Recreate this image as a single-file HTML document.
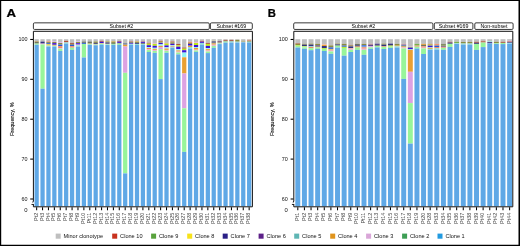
<!DOCTYPE html>
<html><head><meta charset="utf-8"><title>Clonotype frequencies</title>
<style>html,body{margin:0;padding:0;background:#fff;width:520px;height:246px;overflow:hidden}svg{display:block;will-change:transform}</style>
</head><body>
<svg width="520" height="246" viewBox="0 0 520 246">
<style>
text{font-family:'Liberation Sans',sans-serif;fill:#222}
.lt{font-size:12px;font-weight:bold;fill:#000;stroke:#000;stroke-width:0.25px}
.st{font-size:6px;text-anchor:middle;fill:#000}
.yl{font-size:5.4px;text-anchor:end;fill:#111}
.yt{font-size:5.5px;text-anchor:middle;fill:#000;stroke:#000;stroke-width:0.08px}
.xl{font-size:6px;text-anchor:end;fill:#4a4a4a}
.lg{font-size:5.9px;fill:#111}
.strip{fill:#fff;stroke:#222;stroke-width:0.9}
.fr{fill:none;stroke:#111;stroke-width:1}
.tk{fill:none;stroke:#000;stroke-width:1.05}
.brk{fill:none;stroke:#000;stroke-width:0.9}
</style>
<rect x="0" y="0" width="520" height="246" fill="#fff"/>
<text transform="translate(6.55 16.85) scale(1.1 0.97)" class="lt">A</text>
<rect x="33.4" y="22.85" width="175.9" height="6.6" rx="1.2" class="strip"/>
<text transform="translate(121.35 27.95) scale(0.88 1)" class="st">Subset #2</text>
<rect x="210.4" y="22.85" width="41.9" height="6.6" rx="1.2" class="strip"/>
<text transform="translate(231.35 27.95) scale(0.88 1)" class="st">Subset #169</text>
<rect x="34.52" y="39.2" width="4.25" height="1.9" fill="#bfbfbf"/>
<rect x="34.52" y="41.1" width="4.25" height="0.5" fill="#e9a032"/>
<rect x="34.52" y="41.6" width="4.25" height="2" fill="#6f7560"/>
<rect x="34.52" y="43.6" width="4.25" height="1.15" fill="#98f59a"/>
<rect x="34.52" y="44.75" width="4.25" height="161.55" fill="#5fa8e6"/>
<rect x="40.43" y="39.2" width="4.25" height="2.4" fill="#bfbfbf"/>
<rect x="40.43" y="41.6" width="4.25" height="2" fill="#33337f"/>
<rect x="40.43" y="43.6" width="4.25" height="0.8" fill="#f0a6d6"/>
<rect x="40.43" y="44.4" width="4.25" height="44.3" fill="#98f59a"/>
<rect x="40.43" y="88.7" width="4.25" height="117.6" fill="#5fa8e6"/>
<rect x="46.33" y="39.2" width="4.25" height="2.1" fill="#bfbfbf"/>
<rect x="46.33" y="41.3" width="4.25" height="0.7" fill="#ee8a6a"/>
<rect x="46.33" y="42" width="4.25" height="0.9" fill="#8c8c40"/>
<rect x="46.33" y="42.9" width="4.25" height="1" fill="#2656dc"/>
<rect x="46.33" y="43.9" width="4.25" height="1.8" fill="#e2d25a"/>
<rect x="46.33" y="45.7" width="4.25" height="0.9" fill="#8ee0d4"/>
<rect x="46.33" y="46.6" width="4.25" height="159.7" fill="#5fa8e6"/>
<rect x="52.23" y="39.2" width="4.25" height="2.1" fill="#bfbfbf"/>
<rect x="52.23" y="41.3" width="4.25" height="0.7" fill="#dda2e2"/>
<rect x="52.23" y="42" width="4.25" height="1.1" fill="#8c8c40"/>
<rect x="52.23" y="43.1" width="4.25" height="1.7" fill="#3c12d8"/>
<rect x="52.23" y="44.8" width="4.25" height="0.9" fill="#e9a032"/>
<rect x="52.23" y="45.7" width="4.25" height="1" fill="#8ee0d4"/>
<rect x="52.23" y="46.7" width="4.25" height="159.6" fill="#5fa8e6"/>
<rect x="58.14" y="39.2" width="4.25" height="3" fill="#bfbfbf"/>
<rect x="58.14" y="42.2" width="4.25" height="0.8" fill="#dda2e2"/>
<rect x="58.14" y="43" width="4.25" height="1.6" fill="#8c8c40"/>
<rect x="58.14" y="44.6" width="4.25" height="1.5" fill="#2656dc"/>
<rect x="58.14" y="46.1" width="4.25" height="1.9" fill="#ee8a6a"/>
<rect x="58.14" y="48" width="4.25" height="0.7" fill="#f0a6d6"/>
<rect x="58.14" y="48.7" width="4.25" height="2.2" fill="#98f59a"/>
<rect x="58.14" y="50.9" width="4.25" height="155.4" fill="#5fa8e6"/>
<rect x="64.04" y="39.2" width="4.25" height="1.6" fill="#bfbfbf"/>
<rect x="64.04" y="40.8" width="4.25" height="1.6" fill="#b0503a"/>
<rect x="64.04" y="42.4" width="4.25" height="1.2" fill="#8ee0d4"/>
<rect x="64.04" y="43.6" width="4.25" height="162.7" fill="#5fa8e6"/>
<rect x="69.94" y="39.2" width="4.25" height="3.7" fill="#bfbfbf"/>
<rect x="69.94" y="42.9" width="4.25" height="1" fill="#b0503a"/>
<rect x="69.94" y="43.9" width="4.25" height="0.9" fill="#8c8c40"/>
<rect x="69.94" y="44.8" width="4.25" height="1.3" fill="#2656dc"/>
<rect x="69.94" y="46.1" width="4.25" height="1.6" fill="#ee8a6a"/>
<rect x="69.94" y="47.7" width="4.25" height="2.1" fill="#98f59a"/>
<rect x="69.94" y="49.8" width="4.25" height="156.5" fill="#5fa8e6"/>
<rect x="75.85" y="39.2" width="4.25" height="2.3" fill="#bfbfbf"/>
<rect x="75.85" y="41.5" width="4.25" height="0.5" fill="#dda2e2"/>
<rect x="75.85" y="42" width="4.25" height="1.2" fill="#8c8c40"/>
<rect x="75.85" y="43.2" width="4.25" height="1.4" fill="#3c12d8"/>
<rect x="75.85" y="44.6" width="4.25" height="0.7" fill="#f0a6d6"/>
<rect x="75.85" y="45.3" width="4.25" height="1.4" fill="#8ee0d4"/>
<rect x="75.85" y="46.7" width="4.25" height="159.6" fill="#5fa8e6"/>
<rect x="81.75" y="39.2" width="4.25" height="2.3" fill="#bfbfbf"/>
<rect x="81.75" y="41.5" width="4.25" height="1.4" fill="#6f7560"/>
<rect x="81.75" y="42.9" width="4.25" height="1" fill="#2656dc"/>
<rect x="81.75" y="43.9" width="4.25" height="13.6" fill="#98f59a"/>
<rect x="81.75" y="57.5" width="4.25" height="148.8" fill="#5fa8e6"/>
<rect x="87.65" y="39.2" width="4.25" height="2.3" fill="#bfbfbf"/>
<rect x="87.65" y="41.5" width="4.25" height="2.1" fill="#6f7560"/>
<rect x="87.65" y="43.6" width="4.25" height="0.7" fill="#e2d25a"/>
<rect x="87.65" y="44.3" width="4.25" height="0.7" fill="#8ee0d4"/>
<rect x="87.65" y="45" width="4.25" height="161.3" fill="#5fa8e6"/>
<rect x="93.55" y="39.2" width="4.25" height="2.3" fill="#bfbfbf"/>
<rect x="93.55" y="41.5" width="4.25" height="1.4" fill="#8c8c40"/>
<rect x="93.55" y="42.9" width="4.25" height="1" fill="#33337f"/>
<rect x="93.55" y="43.9" width="4.25" height="0.7" fill="#e2d25a"/>
<rect x="93.55" y="44.6" width="4.25" height="0.7" fill="#8ee0d4"/>
<rect x="93.55" y="45.3" width="4.25" height="161" fill="#5fa8e6"/>
<rect x="99.46" y="39.2" width="4.25" height="1.6" fill="#bfbfbf"/>
<rect x="99.46" y="40.8" width="4.25" height="1" fill="#b0503a"/>
<rect x="99.46" y="41.8" width="4.25" height="1.4" fill="#3c12d8"/>
<rect x="99.46" y="43.2" width="4.25" height="0.7" fill="#e2d25a"/>
<rect x="99.46" y="43.9" width="4.25" height="1.1" fill="#8ee0d4"/>
<rect x="99.46" y="45" width="4.25" height="161.3" fill="#5fa8e6"/>
<rect x="105.36" y="39.2" width="4.25" height="2" fill="#bfbfbf"/>
<rect x="105.36" y="41.2" width="4.25" height="0.3" fill="#e9a032"/>
<rect x="105.36" y="41.5" width="4.25" height="1" fill="#8c8c40"/>
<rect x="105.36" y="42.5" width="4.25" height="1.3" fill="#33337f"/>
<rect x="105.36" y="43.8" width="4.25" height="0.5" fill="#e2d25a"/>
<rect x="105.36" y="44.3" width="4.25" height="0.7" fill="#8ee0d4"/>
<rect x="105.36" y="45" width="4.25" height="161.3" fill="#5fa8e6"/>
<rect x="111.26" y="39.2" width="4.25" height="2" fill="#bfbfbf"/>
<rect x="111.26" y="41.2" width="4.25" height="0.5" fill="#e9a032"/>
<rect x="111.26" y="41.7" width="4.25" height="1.2" fill="#8c8c40"/>
<rect x="111.26" y="42.9" width="4.25" height="1" fill="#6f7560"/>
<rect x="111.26" y="43.9" width="4.25" height="0.9" fill="#98f59a"/>
<rect x="111.26" y="44.8" width="4.25" height="161.5" fill="#5fa8e6"/>
<rect x="117.17" y="39.2" width="4.25" height="1.8" fill="#bfbfbf"/>
<rect x="117.17" y="41" width="4.25" height="0.7" fill="#b0503a"/>
<rect x="117.17" y="41.7" width="4.25" height="1.2" fill="#3c12d8"/>
<rect x="117.17" y="42.9" width="4.25" height="0.7" fill="#6f7560"/>
<rect x="117.17" y="43.6" width="4.25" height="1.2" fill="#98f59a"/>
<rect x="117.17" y="44.8" width="4.25" height="161.5" fill="#5fa8e6"/>
<rect x="123.07" y="39.2" width="4.25" height="3.7" fill="#bfbfbf"/>
<rect x="123.07" y="42.9" width="4.25" height="0.7" fill="#8c8c40"/>
<rect x="123.07" y="43.6" width="4.25" height="1" fill="#2656dc"/>
<rect x="123.07" y="44.6" width="4.25" height="1.9" fill="#e9a032"/>
<rect x="123.07" y="46.5" width="4.25" height="26.3" fill="#dda2e2"/>
<rect x="123.07" y="72.8" width="4.25" height="100.6" fill="#98f59a"/>
<rect x="123.07" y="173.4" width="4.25" height="32.9" fill="#5fa8e6"/>
<rect x="128.97" y="39.2" width="4.25" height="2.3" fill="#bfbfbf"/>
<rect x="128.97" y="41.5" width="4.25" height="0.7" fill="#b0503a"/>
<rect x="128.97" y="42.2" width="4.25" height="1" fill="#6f7560"/>
<rect x="128.97" y="43.2" width="4.25" height="0.7" fill="#3c12d8"/>
<rect x="128.97" y="43.9" width="4.25" height="0.9" fill="#8ee0d4"/>
<rect x="128.97" y="44.8" width="4.25" height="161.5" fill="#5fa8e6"/>
<rect x="134.88" y="39.2" width="4.25" height="2.1" fill="#bfbfbf"/>
<rect x="134.88" y="41.3" width="4.25" height="0.5" fill="#e9a032"/>
<rect x="134.88" y="41.8" width="4.25" height="1.1" fill="#8c8c40"/>
<rect x="134.88" y="42.9" width="4.25" height="1" fill="#33337f"/>
<rect x="134.88" y="43.9" width="4.25" height="1.1" fill="#8ee0d4"/>
<rect x="134.88" y="45" width="4.25" height="161.3" fill="#5fa8e6"/>
<rect x="140.78" y="39.2" width="4.25" height="2" fill="#bfbfbf"/>
<rect x="140.78" y="41.2" width="4.25" height="0.5" fill="#e9a032"/>
<rect x="140.78" y="41.7" width="4.25" height="1.2" fill="#3c12d8"/>
<rect x="140.78" y="42.9" width="4.25" height="1" fill="#6f7560"/>
<rect x="140.78" y="43.9" width="4.25" height="0.85" fill="#8ee0d4"/>
<rect x="140.78" y="44.75" width="4.25" height="161.55" fill="#5fa8e6"/>
<rect x="146.68" y="39.2" width="4.25" height="3.6" fill="#bfbfbf"/>
<rect x="146.68" y="42.8" width="4.25" height="0.9" fill="#b0503a"/>
<rect x="146.68" y="43.7" width="4.25" height="1.5" fill="#bde814"/>
<rect x="146.68" y="45.2" width="4.25" height="2" fill="#3c12d8"/>
<rect x="146.68" y="47.2" width="4.25" height="0.8" fill="#8ef4f4"/>
<rect x="146.68" y="48" width="4.25" height="1.1" fill="#e9a032"/>
<rect x="146.68" y="49.1" width="4.25" height="1" fill="#f0a6d6"/>
<rect x="146.68" y="50.1" width="4.25" height="1.9" fill="#98f59a"/>
<rect x="146.68" y="52" width="4.25" height="154.3" fill="#5fa8e6"/>
<rect x="152.58" y="39.2" width="4.25" height="4" fill="#bfbfbf"/>
<rect x="152.58" y="43.2" width="4.25" height="0.7" fill="#f0a6d6"/>
<rect x="152.58" y="43.9" width="4.25" height="1.9" fill="#bde814"/>
<rect x="152.58" y="45.8" width="4.25" height="2" fill="#3c12d8"/>
<rect x="152.58" y="47.8" width="4.25" height="1" fill="#8ef4f4"/>
<rect x="152.58" y="48.8" width="4.25" height="1.1" fill="#e9a032"/>
<rect x="152.58" y="49.9" width="4.25" height="1" fill="#f0a6d6"/>
<rect x="152.58" y="50.9" width="4.25" height="2" fill="#98f59a"/>
<rect x="152.58" y="52.9" width="4.25" height="153.4" fill="#5fa8e6"/>
<rect x="158.49" y="39.2" width="4.25" height="1.6" fill="#bfbfbf"/>
<rect x="158.49" y="40.8" width="4.25" height="1" fill="#b0503a"/>
<rect x="158.49" y="41.8" width="4.25" height="0.9" fill="#bde814"/>
<rect x="158.49" y="42.7" width="4.25" height="1.6" fill="#3c12d8"/>
<rect x="158.49" y="44.3" width="4.25" height="1.5" fill="#8ef4f4"/>
<rect x="158.49" y="45.8" width="4.25" height="1.3" fill="#e9a032"/>
<rect x="158.49" y="47.1" width="4.25" height="2.1" fill="#dda2e2"/>
<rect x="158.49" y="49.2" width="4.25" height="29.9" fill="#98f59a"/>
<rect x="158.49" y="79.1" width="4.25" height="127.2" fill="#5fa8e6"/>
<rect x="164.39" y="39.2" width="4.25" height="3.7" fill="#bfbfbf"/>
<rect x="164.39" y="42.9" width="4.25" height="0.7" fill="#ee8a6a"/>
<rect x="164.39" y="43.6" width="4.25" height="1.8" fill="#bde814"/>
<rect x="164.39" y="45.4" width="4.25" height="1.9" fill="#3c12d8"/>
<rect x="164.39" y="47.3" width="4.25" height="1.2" fill="#8ef4f4"/>
<rect x="164.39" y="48.5" width="4.25" height="1.4" fill="#e9a032"/>
<rect x="164.39" y="49.9" width="4.25" height="0.9" fill="#f0a6d6"/>
<rect x="164.39" y="50.8" width="4.25" height="2" fill="#98f59a"/>
<rect x="164.39" y="52.8" width="4.25" height="153.5" fill="#5fa8e6"/>
<rect x="170.29" y="39.2" width="4.25" height="2.3" fill="#bfbfbf"/>
<rect x="170.29" y="41.5" width="4.25" height="0.9" fill="#b0503a"/>
<rect x="170.29" y="42.4" width="4.25" height="1.4" fill="#8c8c40"/>
<rect x="170.29" y="43.8" width="4.25" height="1.2" fill="#3c12d8"/>
<rect x="170.29" y="45" width="4.25" height="0.8" fill="#8ef4f4"/>
<rect x="170.29" y="45.8" width="4.25" height="1" fill="#ee8a6a"/>
<rect x="170.29" y="46.8" width="4.25" height="1" fill="#8ee0d4"/>
<rect x="170.29" y="47.8" width="4.25" height="158.5" fill="#5fa8e6"/>
<rect x="176.2" y="39.2" width="4.25" height="4.8" fill="#bfbfbf"/>
<rect x="176.2" y="44" width="4.25" height="1.3" fill="#b0503a"/>
<rect x="176.2" y="45.3" width="4.25" height="1.4" fill="#bde814"/>
<rect x="176.2" y="46.7" width="4.25" height="2.4" fill="#3c12d8"/>
<rect x="176.2" y="49.1" width="4.25" height="1.3" fill="#8ef4f4"/>
<rect x="176.2" y="50.4" width="4.25" height="1.2" fill="#e9a032"/>
<rect x="176.2" y="51.6" width="4.25" height="0.9" fill="#f0a6d6"/>
<rect x="176.2" y="52.5" width="4.25" height="1.9" fill="#98f59a"/>
<rect x="176.2" y="54.4" width="4.25" height="151.9" fill="#5fa8e6"/>
<rect x="182.1" y="39.2" width="4.25" height="8.3" fill="#bfbfbf"/>
<rect x="182.1" y="47.5" width="4.25" height="1.2" fill="#b0503a"/>
<rect x="182.1" y="48.7" width="4.25" height="1.5" fill="#bde814"/>
<rect x="182.1" y="50.2" width="4.25" height="2.4" fill="#3c12d8"/>
<rect x="182.1" y="52.6" width="4.25" height="4.7" fill="#8ef4f4"/>
<rect x="182.1" y="57.3" width="4.25" height="16.2" fill="#e9a032"/>
<rect x="182.1" y="73.5" width="4.25" height="34.8" fill="#dda2e2"/>
<rect x="182.1" y="108.3" width="4.25" height="43.6" fill="#98f59a"/>
<rect x="182.1" y="151.9" width="4.25" height="54.4" fill="#5fa8e6"/>
<rect x="188" y="39.2" width="4.25" height="2.6" fill="#bfbfbf"/>
<rect x="188" y="41.8" width="4.25" height="1.1" fill="#ee8a6a"/>
<rect x="188" y="42.9" width="4.25" height="1" fill="#8c8c40"/>
<rect x="188" y="43.9" width="4.25" height="1.8" fill="#3c12d8"/>
<rect x="188" y="45.7" width="4.25" height="1.3" fill="#e9a032"/>
<rect x="188" y="47" width="4.25" height="1.6" fill="#8ee0d4"/>
<rect x="188" y="48.6" width="4.25" height="157.7" fill="#5fa8e6"/>
<rect x="193.91" y="39.2" width="4.25" height="3" fill="#bfbfbf"/>
<rect x="193.91" y="42.2" width="4.25" height="0.8" fill="#f0a6d6"/>
<rect x="193.91" y="43" width="4.25" height="2" fill="#bde814"/>
<rect x="193.91" y="45" width="4.25" height="2" fill="#3c12d8"/>
<rect x="193.91" y="47" width="4.25" height="1" fill="#8ef4f4"/>
<rect x="193.91" y="48" width="4.25" height="1.7" fill="#e9a032"/>
<rect x="193.91" y="49.7" width="4.25" height="0.8" fill="#f0a6d6"/>
<rect x="193.91" y="50.5" width="4.25" height="1.4" fill="#98f59a"/>
<rect x="193.91" y="51.9" width="4.25" height="154.4" fill="#5fa8e6"/>
<rect x="199.81" y="39.2" width="4.25" height="1.6" fill="#bfbfbf"/>
<rect x="199.81" y="40.8" width="4.25" height="0.9" fill="#b0503a"/>
<rect x="199.81" y="41.7" width="4.25" height="1.2" fill="#3c12d8"/>
<rect x="199.81" y="42.9" width="4.25" height="1.7" fill="#8ee0d4"/>
<rect x="199.81" y="44.6" width="4.25" height="161.7" fill="#5fa8e6"/>
<rect x="205.71" y="39.2" width="4.25" height="3.7" fill="#bfbfbf"/>
<rect x="205.71" y="42.9" width="4.25" height="1" fill="#b0503a"/>
<rect x="205.71" y="43.9" width="4.25" height="2" fill="#bde814"/>
<rect x="205.71" y="45.9" width="4.25" height="2.2" fill="#3c12d8"/>
<rect x="205.71" y="48.1" width="4.25" height="1" fill="#8ef4f4"/>
<rect x="205.71" y="49.1" width="4.25" height="1.4" fill="#e9a032"/>
<rect x="205.71" y="50.5" width="4.25" height="1" fill="#f0a6d6"/>
<rect x="205.71" y="51.5" width="4.25" height="1.6" fill="#98f59a"/>
<rect x="205.71" y="53.1" width="4.25" height="153.2" fill="#5fa8e6"/>
<rect x="211.61" y="39.2" width="4.25" height="1.6" fill="#bfbfbf"/>
<rect x="211.61" y="40.8" width="4.25" height="0.6" fill="#e2d25a"/>
<rect x="211.61" y="41.4" width="4.25" height="1.2" fill="#33337f"/>
<rect x="211.61" y="42.6" width="4.25" height="0.8" fill="#6f7560"/>
<rect x="211.61" y="43.4" width="4.25" height="1.3" fill="#e9a032"/>
<rect x="211.61" y="44.7" width="4.25" height="1.2" fill="#f0a6d6"/>
<rect x="211.61" y="45.9" width="4.25" height="1.9" fill="#98f59a"/>
<rect x="211.61" y="47.8" width="4.25" height="158.5" fill="#5fa8e6"/>
<rect x="217.52" y="39.2" width="4.25" height="1.8" fill="#bfbfbf"/>
<rect x="217.52" y="41" width="4.25" height="0.6" fill="#b0503a"/>
<rect x="217.52" y="41.6" width="4.25" height="1" fill="#33337f"/>
<rect x="217.52" y="42.6" width="4.25" height="0.8" fill="#e2d25a"/>
<rect x="217.52" y="43.4" width="4.25" height="0.7" fill="#8ee0d4"/>
<rect x="217.52" y="44.1" width="4.25" height="162.2" fill="#5fa8e6"/>
<rect x="223.42" y="39.2" width="4.25" height="0.7" fill="#bfbfbf"/>
<rect x="223.42" y="39.9" width="4.25" height="0.9" fill="#b0503a"/>
<rect x="223.42" y="40.8" width="4.25" height="0.7" fill="#6f7560"/>
<rect x="223.42" y="41.5" width="4.25" height="1.1" fill="#98f59a"/>
<rect x="223.42" y="42.6" width="4.25" height="163.7" fill="#5fa8e6"/>
<rect x="229.32" y="39.2" width="4.25" height="0.7" fill="#bfbfbf"/>
<rect x="229.32" y="39.9" width="4.25" height="1" fill="#b0503a"/>
<rect x="229.32" y="40.9" width="4.25" height="0.6" fill="#6f7560"/>
<rect x="229.32" y="41.5" width="4.25" height="1.1" fill="#8ee0d4"/>
<rect x="229.32" y="42.6" width="4.25" height="163.7" fill="#5fa8e6"/>
<rect x="235.23" y="39.2" width="4.25" height="0.7" fill="#bfbfbf"/>
<rect x="235.23" y="39.9" width="4.25" height="1.8" fill="#8c8c40"/>
<rect x="235.23" y="41.7" width="4.25" height="0.9" fill="#8ee0d4"/>
<rect x="235.23" y="42.6" width="4.25" height="163.7" fill="#5fa8e6"/>
<rect x="241.13" y="39.2" width="4.25" height="1.6" fill="#bfbfbf"/>
<rect x="241.13" y="40.8" width="4.25" height="0.9" fill="#8c8c40"/>
<rect x="241.13" y="41.7" width="4.25" height="0.6" fill="#d4d4d4"/>
<rect x="241.13" y="42.3" width="4.25" height="164" fill="#5fa8e6"/>
<rect x="247.03" y="39.2" width="4.25" height="0.7" fill="#bfbfbf"/>
<rect x="247.03" y="39.9" width="4.25" height="0.9" fill="#ee8a6a"/>
<rect x="247.03" y="40.8" width="4.25" height="0.9" fill="#6f7560"/>
<rect x="247.03" y="41.7" width="4.25" height="0.7" fill="#98f59a"/>
<rect x="247.03" y="42.4" width="4.25" height="163.9" fill="#5fa8e6"/>
<path d="M33.4 31.3 H252.4 V206.8" class="fr"/>
<path d="M33.4 31.3 V201.0 M33.4 204.4 V206.8 H252.4" class="fr"/>
<path d="M31.5 204.45 H33.8" class="brk"/>
<path d="M32.9 200.9 H33.9 L33.2 202.6 H32.2 Z" fill="#000"/>
<path d="M30.2 39.45 h2.8" class="tk"/>
<text x="27.4" y="41.35" class="yl">100</text>
<path d="M30.2 79.3 h2.8" class="tk"/>
<text x="27.4" y="81.2" class="yl">90</text>
<path d="M30.2 119.2 h2.8" class="tk"/>
<text x="27.4" y="121.1" class="yl">80</text>
<path d="M30.2 159.1 h2.8" class="tk"/>
<text x="27.4" y="161" class="yl">70</text>
<path d="M30.2 199 h2.8" class="tk"/>
<text x="27.4" y="200.9" class="yl">60</text>
<text x="27.5" y="211.6" class="yl" style="font-size:5.9px">0</text>
<text transform="translate(14 119.2) rotate(-90)" class="yt">Frequency, %</text>
<path d="M36.65 207.2 v3.1" class="tk"/>
<text transform="translate(37.75 212.7) rotate(-90) scale(0.92 1)" class="xl">Pt2</text>
<path d="M42.55 207.2 v3.1" class="tk"/>
<text transform="translate(43.65 212.7) rotate(-90) scale(0.92 1)" class="xl">Pt3</text>
<path d="M48.46 207.2 v3.1" class="tk"/>
<text transform="translate(49.56 212.7) rotate(-90) scale(0.92 1)" class="xl">Pt4</text>
<path d="M54.36 207.2 v3.1" class="tk"/>
<text transform="translate(55.46 212.7) rotate(-90) scale(0.92 1)" class="xl">Pt5</text>
<path d="M60.26 207.2 v3.1" class="tk"/>
<text transform="translate(61.36 212.7) rotate(-90) scale(0.92 1)" class="xl">Pt6</text>
<path d="M66.16 207.2 v3.1" class="tk"/>
<text transform="translate(67.26 212.7) rotate(-90) scale(0.92 1)" class="xl">Pt7</text>
<path d="M72.07 207.2 v3.1" class="tk"/>
<text transform="translate(73.17 212.7) rotate(-90) scale(0.92 1)" class="xl">Pt8</text>
<path d="M77.97 207.2 v3.1" class="tk"/>
<text transform="translate(79.07 212.7) rotate(-90) scale(0.92 1)" class="xl">Pt9</text>
<path d="M83.87 207.2 v3.1" class="tk"/>
<text transform="translate(84.97 212.7) rotate(-90) scale(0.92 1)" class="xl">Pt10</text>
<path d="M89.78 207.2 v3.1" class="tk"/>
<text transform="translate(90.88 212.7) rotate(-90) scale(0.92 1)" class="xl">Pt11</text>
<path d="M95.68 207.2 v3.1" class="tk"/>
<text transform="translate(96.78 212.7) rotate(-90) scale(0.92 1)" class="xl">Pt12</text>
<path d="M101.58 207.2 v3.1" class="tk"/>
<text transform="translate(102.68 212.7) rotate(-90) scale(0.92 1)" class="xl">Pt13</text>
<path d="M107.49 207.2 v3.1" class="tk"/>
<text transform="translate(108.59 212.7) rotate(-90) scale(0.92 1)" class="xl">Pt14</text>
<path d="M113.39 207.2 v3.1" class="tk"/>
<text transform="translate(114.49 212.7) rotate(-90) scale(0.92 1)" class="xl">Pt15</text>
<path d="M119.29 207.2 v3.1" class="tk"/>
<text transform="translate(120.39 212.7) rotate(-90) scale(0.92 1)" class="xl">Pt16</text>
<path d="M125.19 207.2 v3.1" class="tk"/>
<text transform="translate(126.29 212.7) rotate(-90) scale(0.92 1)" class="xl">Pt17</text>
<path d="M131.1 207.2 v3.1" class="tk"/>
<text transform="translate(132.2 212.7) rotate(-90) scale(0.92 1)" class="xl">Pt18</text>
<path d="M137 207.2 v3.1" class="tk"/>
<text transform="translate(138.1 212.7) rotate(-90) scale(0.92 1)" class="xl">Pt19</text>
<path d="M142.9 207.2 v3.1" class="tk"/>
<text transform="translate(144 212.7) rotate(-90) scale(0.92 1)" class="xl">Pt20</text>
<path d="M148.81 207.2 v3.1" class="tk"/>
<text transform="translate(149.91 212.7) rotate(-90) scale(0.92 1)" class="xl">Pt21</text>
<path d="M154.71 207.2 v3.1" class="tk"/>
<text transform="translate(155.81 212.7) rotate(-90) scale(0.92 1)" class="xl">Pt22</text>
<path d="M160.61 207.2 v3.1" class="tk"/>
<text transform="translate(161.71 212.7) rotate(-90) scale(0.92 1)" class="xl">Pt23</text>
<path d="M166.52 207.2 v3.1" class="tk"/>
<text transform="translate(167.62 212.7) rotate(-90) scale(0.92 1)" class="xl">Pt24</text>
<path d="M172.42 207.2 v3.1" class="tk"/>
<text transform="translate(173.52 212.7) rotate(-90) scale(0.92 1)" class="xl">Pt25</text>
<path d="M178.32 207.2 v3.1" class="tk"/>
<text transform="translate(179.42 212.7) rotate(-90) scale(0.92 1)" class="xl">Pt26</text>
<path d="M184.22 207.2 v3.1" class="tk"/>
<text transform="translate(185.32 212.7) rotate(-90) scale(0.92 1)" class="xl">Pt27</text>
<path d="M190.13 207.2 v3.1" class="tk"/>
<text transform="translate(191.23 212.7) rotate(-90) scale(0.92 1)" class="xl">Pt28</text>
<path d="M196.03 207.2 v3.1" class="tk"/>
<text transform="translate(197.13 212.7) rotate(-90) scale(0.92 1)" class="xl">Pt29</text>
<path d="M201.93 207.2 v3.1" class="tk"/>
<text transform="translate(203.03 212.7) rotate(-90) scale(0.92 1)" class="xl">Pt30</text>
<path d="M207.84 207.2 v3.1" class="tk"/>
<text transform="translate(208.94 212.7) rotate(-90) scale(0.92 1)" class="xl">Pt31</text>
<path d="M213.74 207.2 v3.1" class="tk"/>
<text transform="translate(214.84 212.7) rotate(-90) scale(0.92 1)" class="xl">Pt32</text>
<path d="M219.64 207.2 v3.1" class="tk"/>
<text transform="translate(220.74 212.7) rotate(-90) scale(0.92 1)" class="xl">Pt33</text>
<path d="M225.55 207.2 v3.1" class="tk"/>
<text transform="translate(226.65 212.7) rotate(-90) scale(0.92 1)" class="xl">Pt34</text>
<path d="M231.45 207.2 v3.1" class="tk"/>
<text transform="translate(232.55 212.7) rotate(-90) scale(0.92 1)" class="xl">Pt35</text>
<path d="M237.35 207.2 v3.1" class="tk"/>
<text transform="translate(238.45 212.7) rotate(-90) scale(0.92 1)" class="xl">Pt36</text>
<path d="M243.25 207.2 v3.1" class="tk"/>
<text transform="translate(244.35 212.7) rotate(-90) scale(0.92 1)" class="xl">Pt37</text>
<path d="M249.16 207.2 v3.1" class="tk"/>
<text transform="translate(250.26 212.7) rotate(-90) scale(0.92 1)" class="xl">Pt38</text>
<text transform="translate(267.8 16.85) scale(0.94 0.98)" class="lt">B</text>
<rect x="293.7" y="22.85" width="139.2" height="6.6" rx="1.2" class="strip"/>
<text transform="translate(363.3 27.95) scale(0.88 1)" class="st">Subset #2</text>
<rect x="434.3" y="22.85" width="38.6" height="6.6" rx="1.2" class="strip"/>
<text transform="translate(453.6 27.95) scale(0.88 1)" class="st">Subset #169</text>
<rect x="474.8" y="22.85" width="38.3" height="6.6" rx="1.2" class="strip"/>
<text transform="translate(493.95 27.95) scale(0.88 1)" class="st">Non-subset</text>
<rect x="295.32" y="39.2" width="4.95" height="4" fill="#bfbfbf"/>
<rect x="295.32" y="43.2" width="4.95" height="0.6" fill="#b0503a"/>
<rect x="295.32" y="43.8" width="4.95" height="1.4" fill="#8c8c40"/>
<rect x="295.32" y="45.2" width="4.95" height="0.6" fill="#bde814"/>
<rect x="295.32" y="45.8" width="4.95" height="1.7" fill="#98f59a"/>
<rect x="295.32" y="47.5" width="4.95" height="158.8" fill="#5fa8e6"/>
<rect x="301.94" y="39.2" width="4.95" height="4.7" fill="#bfbfbf"/>
<rect x="301.94" y="43.9" width="4.95" height="0.8" fill="#8c8c40"/>
<rect x="301.94" y="44.7" width="4.95" height="1.3" fill="#33337f"/>
<rect x="301.94" y="46" width="4.95" height="0.7" fill="#bde814"/>
<rect x="301.94" y="46.7" width="4.95" height="0.7" fill="#8ee0d4"/>
<rect x="301.94" y="47.4" width="4.95" height="1.4" fill="#98f59a"/>
<rect x="301.94" y="48.8" width="4.95" height="157.5" fill="#5fa8e6"/>
<rect x="308.56" y="39.2" width="4.95" height="4.4" fill="#bfbfbf"/>
<rect x="308.56" y="43.6" width="4.95" height="1" fill="#8c8c40"/>
<rect x="308.56" y="44.6" width="4.95" height="1.7" fill="#33337f"/>
<rect x="308.56" y="46.3" width="4.95" height="0.7" fill="#8ee0d4"/>
<rect x="308.56" y="47" width="4.95" height="1.1" fill="#ee8a6a"/>
<rect x="308.56" y="48.1" width="4.95" height="2.1" fill="#98f59a"/>
<rect x="308.56" y="50.2" width="4.95" height="156.1" fill="#5fa8e6"/>
<rect x="315.18" y="39.2" width="4.95" height="4.7" fill="#bfbfbf"/>
<rect x="315.18" y="43.9" width="4.95" height="1.4" fill="#8c8c40"/>
<rect x="315.18" y="45.3" width="4.95" height="1.4" fill="#554a8e"/>
<rect x="315.18" y="46.7" width="4.95" height="0.7" fill="#e9a032"/>
<rect x="315.18" y="47.4" width="4.95" height="1.4" fill="#98f59a"/>
<rect x="315.18" y="48.8" width="4.95" height="157.5" fill="#5fa8e6"/>
<rect x="321.8" y="39.2" width="4.95" height="5.1" fill="#bfbfbf"/>
<rect x="321.8" y="44.3" width="4.95" height="0.4" fill="#f0a6d6"/>
<rect x="321.8" y="44.7" width="4.95" height="1.3" fill="#e9a032"/>
<rect x="321.8" y="46" width="4.95" height="2.1" fill="#33337f"/>
<rect x="321.8" y="48.1" width="4.95" height="0.8" fill="#bde814"/>
<rect x="321.8" y="48.9" width="4.95" height="2.1" fill="#98f59a"/>
<rect x="321.8" y="51" width="4.95" height="155.3" fill="#5fa8e6"/>
<rect x="328.42" y="39.2" width="4.95" height="6.2" fill="#bfbfbf"/>
<rect x="328.42" y="45.4" width="4.95" height="2" fill="#8c8c40"/>
<rect x="328.42" y="47.4" width="4.95" height="1.5" fill="#2656dc"/>
<rect x="328.42" y="48.9" width="4.95" height="0.6" fill="#bde814"/>
<rect x="328.42" y="49.5" width="4.95" height="1.1" fill="#ee8a6a"/>
<rect x="328.42" y="50.6" width="4.95" height="0.8" fill="#f0a6d6"/>
<rect x="328.42" y="51.4" width="4.95" height="2.4" fill="#98f59a"/>
<rect x="328.42" y="53.8" width="4.95" height="152.5" fill="#5fa8e6"/>
<rect x="335.04" y="39.2" width="4.95" height="4.4" fill="#bfbfbf"/>
<rect x="335.04" y="43.6" width="4.95" height="0.8" fill="#8c8c40"/>
<rect x="335.04" y="44.4" width="4.95" height="1.2" fill="#33337f"/>
<rect x="335.04" y="45.6" width="4.95" height="2" fill="#98f59a"/>
<rect x="335.04" y="47.6" width="4.95" height="158.7" fill="#5fa8e6"/>
<rect x="341.66" y="39.2" width="4.95" height="4.7" fill="#bfbfbf"/>
<rect x="341.66" y="43.9" width="4.95" height="1.7" fill="#8c8c40"/>
<rect x="341.66" y="45.6" width="4.95" height="1.2" fill="#2656dc"/>
<rect x="341.66" y="46.8" width="4.95" height="1.1" fill="#bde814"/>
<rect x="341.66" y="47.9" width="4.95" height="7.8" fill="#98f59a"/>
<rect x="341.66" y="55.7" width="4.95" height="150.6" fill="#5fa8e6"/>
<rect x="348.28" y="39.2" width="4.95" height="5.7" fill="#bfbfbf"/>
<rect x="348.28" y="44.9" width="4.95" height="0.6" fill="#b0503a"/>
<rect x="348.28" y="45.5" width="4.95" height="0.9" fill="#8c8c40"/>
<rect x="348.28" y="46.4" width="4.95" height="1.7" fill="#33337f"/>
<rect x="348.28" y="48.1" width="4.95" height="0.5" fill="#e9a032"/>
<rect x="348.28" y="48.6" width="4.95" height="1.2" fill="#f0a6d6"/>
<rect x="348.28" y="49.8" width="4.95" height="2.2" fill="#98f59a"/>
<rect x="348.28" y="52" width="4.95" height="154.3" fill="#5fa8e6"/>
<rect x="354.9" y="39.2" width="4.95" height="4.7" fill="#bfbfbf"/>
<rect x="354.9" y="43.9" width="4.95" height="1.4" fill="#6f7560"/>
<rect x="354.9" y="45.3" width="4.95" height="1.2" fill="#33337f"/>
<rect x="354.9" y="46.5" width="4.95" height="1" fill="#e9a032"/>
<rect x="354.9" y="47.5" width="4.95" height="2.4" fill="#98f59a"/>
<rect x="354.9" y="49.9" width="4.95" height="156.4" fill="#5fa8e6"/>
<rect x="361.51" y="39.2" width="4.95" height="4.7" fill="#bfbfbf"/>
<rect x="361.51" y="43.9" width="4.95" height="1.4" fill="#8c8c40"/>
<rect x="361.51" y="45.3" width="4.95" height="1.4" fill="#2656dc"/>
<rect x="361.51" y="46.7" width="4.95" height="0.5" fill="#8ee0d4"/>
<rect x="361.51" y="47.2" width="4.95" height="1.5" fill="#ee8a6a"/>
<rect x="361.51" y="48.7" width="4.95" height="1.1" fill="#f0a6d6"/>
<rect x="361.51" y="49.8" width="4.95" height="5" fill="#98f59a"/>
<rect x="361.51" y="54.8" width="4.95" height="151.5" fill="#5fa8e6"/>
<rect x="368.13" y="39.2" width="4.95" height="4.7" fill="#bfbfbf"/>
<rect x="368.13" y="43.9" width="4.95" height="0.7" fill="#ee8a6a"/>
<rect x="368.13" y="44.6" width="4.95" height="1.5" fill="#554a8e"/>
<rect x="368.13" y="46.1" width="4.95" height="1.2" fill="#dda2e2"/>
<rect x="368.13" y="47.3" width="4.95" height="1.5" fill="#98f59a"/>
<rect x="368.13" y="48.8" width="4.95" height="157.5" fill="#5fa8e6"/>
<rect x="374.75" y="39.2" width="4.95" height="4.4" fill="#bfbfbf"/>
<rect x="374.75" y="43.6" width="4.95" height="1.7" fill="#554a8e"/>
<rect x="374.75" y="45.3" width="4.95" height="0.7" fill="#6f7560"/>
<rect x="374.75" y="46" width="4.95" height="1.4" fill="#98f59a"/>
<rect x="374.75" y="47.4" width="4.95" height="158.9" fill="#5fa8e6"/>
<rect x="381.37" y="39.2" width="4.95" height="4.4" fill="#bfbfbf"/>
<rect x="381.37" y="43.6" width="4.95" height="1.1" fill="#8c8c40"/>
<rect x="381.37" y="44.7" width="4.95" height="1.3" fill="#33337f"/>
<rect x="381.37" y="46" width="4.95" height="0.8" fill="#ee8a6a"/>
<rect x="381.37" y="46.8" width="4.95" height="2.2" fill="#98f59a"/>
<rect x="381.37" y="49" width="4.95" height="157.3" fill="#5fa8e6"/>
<rect x="387.99" y="39.2" width="4.95" height="4.4" fill="#bfbfbf"/>
<rect x="387.99" y="43.6" width="4.95" height="2" fill="#33337f"/>
<rect x="387.99" y="45.6" width="4.95" height="0.9" fill="#bde814"/>
<rect x="387.99" y="46.5" width="4.95" height="1.4" fill="#98f59a"/>
<rect x="387.99" y="47.9" width="4.95" height="158.4" fill="#5fa8e6"/>
<rect x="394.61" y="39.2" width="4.95" height="4.7" fill="#bfbfbf"/>
<rect x="394.61" y="43.9" width="4.95" height="1.7" fill="#8c8c40"/>
<rect x="394.61" y="45.6" width="4.95" height="0.7" fill="#e9a032"/>
<rect x="394.61" y="46.3" width="4.95" height="1.2" fill="#8ee0d4"/>
<rect x="394.61" y="47.5" width="4.95" height="158.8" fill="#5fa8e6"/>
<rect x="401.23" y="39.2" width="4.95" height="4.7" fill="#bfbfbf"/>
<rect x="401.23" y="43.9" width="4.95" height="0.8" fill="#ee8a6a"/>
<rect x="401.23" y="44.7" width="4.95" height="1" fill="#2656dc"/>
<rect x="401.23" y="45.7" width="4.95" height="0.9" fill="#8c8c40"/>
<rect x="401.23" y="46.6" width="4.95" height="0.8" fill="#e9a032"/>
<rect x="401.23" y="47.4" width="4.95" height="1" fill="#f0a6d6"/>
<rect x="401.23" y="48.4" width="4.95" height="30.5" fill="#98f59a"/>
<rect x="401.23" y="78.9" width="4.95" height="127.4" fill="#5fa8e6"/>
<rect x="407.85" y="39.2" width="4.95" height="7.1" fill="#bfbfbf"/>
<rect x="407.85" y="46.3" width="4.95" height="0.5" fill="#f0a6d6"/>
<rect x="407.85" y="46.8" width="4.95" height="0.9" fill="#78b048"/>
<rect x="407.85" y="47.7" width="4.95" height="1.4" fill="#3c12d8"/>
<rect x="407.85" y="49.1" width="4.95" height="0.8" fill="#8ee0d4"/>
<rect x="407.85" y="49.9" width="4.95" height="21.9" fill="#e9a032"/>
<rect x="407.85" y="71.8" width="4.95" height="31.3" fill="#dda2e2"/>
<rect x="407.85" y="103.1" width="4.95" height="40.5" fill="#98f59a"/>
<rect x="407.85" y="143.6" width="4.95" height="62.7" fill="#5fa8e6"/>
<rect x="414.47" y="39.2" width="4.95" height="4.7" fill="#bfbfbf"/>
<rect x="414.47" y="43.9" width="4.95" height="1.7" fill="#78b048"/>
<rect x="414.47" y="45.6" width="4.95" height="1.1" fill="#ee8a6a"/>
<rect x="414.47" y="46.7" width="4.95" height="1.8" fill="#98f59a"/>
<rect x="414.47" y="48.5" width="4.95" height="157.8" fill="#5fa8e6"/>
<rect x="421.09" y="39.2" width="4.95" height="4.7" fill="#bfbfbf"/>
<rect x="421.09" y="43.9" width="4.95" height="1" fill="#e9a032"/>
<rect x="421.09" y="44.9" width="4.95" height="1.4" fill="#6f7560"/>
<rect x="421.09" y="46.3" width="4.95" height="1.4" fill="#ee8a6a"/>
<rect x="421.09" y="47.7" width="4.95" height="0.7" fill="#f0a6d6"/>
<rect x="421.09" y="48.4" width="4.95" height="5.6" fill="#98f59a"/>
<rect x="421.09" y="54" width="4.95" height="152.3" fill="#5fa8e6"/>
<rect x="427.7" y="39.2" width="4.95" height="4.7" fill="#bfbfbf"/>
<rect x="427.7" y="43.9" width="4.95" height="0.7" fill="#b0503a"/>
<rect x="427.7" y="44.6" width="4.95" height="1" fill="#bde814"/>
<rect x="427.7" y="45.6" width="4.95" height="1.6" fill="#3c12d8"/>
<rect x="427.7" y="47.2" width="4.95" height="0.7" fill="#8ee0d4"/>
<rect x="427.7" y="47.9" width="4.95" height="1" fill="#e9a032"/>
<rect x="427.7" y="48.9" width="4.95" height="0.9" fill="#8ee0d4"/>
<rect x="427.7" y="49.8" width="4.95" height="156.5" fill="#5fa8e6"/>
<rect x="434.32" y="39.2" width="4.95" height="4.7" fill="#bfbfbf"/>
<rect x="434.32" y="43.9" width="4.95" height="1" fill="#ee8a6a"/>
<rect x="434.32" y="44.9" width="4.95" height="0.7" fill="#e9a032"/>
<rect x="434.32" y="45.6" width="4.95" height="1.4" fill="#2656dc"/>
<rect x="434.32" y="47" width="4.95" height="1.1" fill="#ee8a6a"/>
<rect x="434.32" y="48.1" width="4.95" height="1.5" fill="#8ee0d4"/>
<rect x="434.32" y="49.6" width="4.95" height="156.7" fill="#5fa8e6"/>
<rect x="440.94" y="39.2" width="4.95" height="4.7" fill="#bfbfbf"/>
<rect x="440.94" y="43.9" width="4.95" height="1" fill="#6f7560"/>
<rect x="440.94" y="44.9" width="4.95" height="0.7" fill="#bde814"/>
<rect x="440.94" y="45.6" width="4.95" height="1.1" fill="#33337f"/>
<rect x="440.94" y="46.7" width="4.95" height="1.1" fill="#ee8a6a"/>
<rect x="440.94" y="47.8" width="4.95" height="2" fill="#98f59a"/>
<rect x="440.94" y="49.8" width="4.95" height="156.5" fill="#5fa8e6"/>
<rect x="447.56" y="39.2" width="4.95" height="2.6" fill="#bfbfbf"/>
<rect x="447.56" y="41.8" width="4.95" height="0.8" fill="#b0503a"/>
<rect x="447.56" y="42.6" width="4.95" height="1.2" fill="#33337f"/>
<rect x="447.56" y="43.8" width="4.95" height="3.1" fill="#98f59a"/>
<rect x="447.56" y="46.9" width="4.95" height="159.4" fill="#5fa8e6"/>
<rect x="454.18" y="39.2" width="4.95" height="2.6" fill="#bfbfbf"/>
<rect x="454.18" y="41.8" width="4.95" height="1.4" fill="#78b048"/>
<rect x="454.18" y="43.2" width="4.95" height="0.7" fill="#8ee0d4"/>
<rect x="454.18" y="43.9" width="4.95" height="162.4" fill="#5fa8e6"/>
<rect x="460.8" y="39.2" width="4.95" height="2.8" fill="#bfbfbf"/>
<rect x="460.8" y="42" width="4.95" height="1.5" fill="#8c8c40"/>
<rect x="460.8" y="43.5" width="4.95" height="1.1" fill="#8ee0d4"/>
<rect x="460.8" y="44.6" width="4.95" height="161.7" fill="#5fa8e6"/>
<rect x="467.42" y="39.2" width="4.95" height="2.8" fill="#bfbfbf"/>
<rect x="467.42" y="42" width="4.95" height="1.5" fill="#8c8c40"/>
<rect x="467.42" y="43.5" width="4.95" height="1.1" fill="#8ee0d4"/>
<rect x="467.42" y="44.6" width="4.95" height="161.7" fill="#5fa8e6"/>
<rect x="474.04" y="39.2" width="4.95" height="2.6" fill="#bfbfbf"/>
<rect x="474.04" y="41.8" width="4.95" height="1" fill="#b0503a"/>
<rect x="474.04" y="42.8" width="4.95" height="1.1" fill="#33337f"/>
<rect x="474.04" y="43.9" width="4.95" height="6" fill="#98f59a"/>
<rect x="474.04" y="49.9" width="4.95" height="156.4" fill="#5fa8e6"/>
<rect x="480.66" y="39.2" width="4.95" height="1.6" fill="#bfbfbf"/>
<rect x="480.66" y="40.8" width="4.95" height="1.8" fill="#c07a66"/>
<rect x="480.66" y="42.6" width="4.95" height="4.5" fill="#98f59a"/>
<rect x="480.66" y="47.1" width="4.95" height="159.2" fill="#5fa8e6"/>
<rect x="487.28" y="39.2" width="4.95" height="2.1" fill="#bfbfbf"/>
<rect x="487.28" y="41.3" width="4.95" height="0.7" fill="#8ee0d4"/>
<rect x="487.28" y="42" width="4.95" height="1.3" fill="#554a8e"/>
<rect x="487.28" y="43.3" width="4.95" height="163" fill="#5fa8e6"/>
<rect x="493.89" y="39.2" width="4.95" height="2.6" fill="#bfbfbf"/>
<rect x="493.89" y="41.8" width="4.95" height="1.4" fill="#8c8c40"/>
<rect x="493.89" y="43.2" width="4.95" height="0.7" fill="#98f59a"/>
<rect x="493.89" y="43.9" width="4.95" height="162.4" fill="#5fa8e6"/>
<rect x="500.51" y="39.2" width="4.95" height="2.6" fill="#bfbfbf"/>
<rect x="500.51" y="41.8" width="4.95" height="1.1" fill="#b0503a"/>
<rect x="500.51" y="42.9" width="4.95" height="1.2" fill="#98f59a"/>
<rect x="500.51" y="44.1" width="4.95" height="162.2" fill="#5fa8e6"/>
<rect x="507.13" y="39.2" width="4.95" height="1.6" fill="#bfbfbf"/>
<rect x="507.13" y="40.8" width="4.95" height="0.7" fill="#dda2e2"/>
<rect x="507.13" y="41.5" width="4.95" height="0.7" fill="#b0503a"/>
<rect x="507.13" y="42.2" width="4.95" height="0.7" fill="#33337f"/>
<rect x="507.13" y="42.9" width="4.95" height="0.7" fill="#8ef4f4"/>
<rect x="507.13" y="43.6" width="4.95" height="162.7" fill="#5fa8e6"/>
<path d="M293.8 31.3 H512.8 V206.8" class="fr"/>
<path d="M293.8 31.3 V201.0 M293.8 204.4 V206.8 H512.8" class="fr"/>
<path d="M291.9 204.45 H294.2" class="brk"/>
<path d="M293.3 200.9 H294.3 L293.6 202.6 H292.6 Z" fill="#000"/>
<path d="M290.6 39.45 h2.8" class="tk"/>
<text x="287.8" y="41.35" class="yl">100</text>
<path d="M290.6 79.3 h2.8" class="tk"/>
<text x="287.8" y="81.2" class="yl">90</text>
<path d="M290.6 119.2 h2.8" class="tk"/>
<text x="287.8" y="121.1" class="yl">80</text>
<path d="M290.6 159.1 h2.8" class="tk"/>
<text x="287.8" y="161" class="yl">70</text>
<path d="M290.6 199 h2.8" class="tk"/>
<text x="287.8" y="200.9" class="yl">60</text>
<text x="287.9" y="211.6" class="yl" style="font-size:5.9px">0</text>
<text transform="translate(274.4 119.2) rotate(-90)" class="yt">Frequency, %</text>
<path d="M297.8 207.2 v3.1" class="tk"/>
<text transform="translate(298.9 212.7) rotate(-90) scale(0.92 1)" class="xl">Pt1</text>
<path d="M304.42 207.2 v3.1" class="tk"/>
<text transform="translate(305.52 212.7) rotate(-90) scale(0.92 1)" class="xl">Pt2</text>
<path d="M311.04 207.2 v3.1" class="tk"/>
<text transform="translate(312.14 212.7) rotate(-90) scale(0.92 1)" class="xl">Pt3</text>
<path d="M317.66 207.2 v3.1" class="tk"/>
<text transform="translate(318.76 212.7) rotate(-90) scale(0.92 1)" class="xl">Pt4</text>
<path d="M324.28 207.2 v3.1" class="tk"/>
<text transform="translate(325.38 212.7) rotate(-90) scale(0.92 1)" class="xl">Pt5</text>
<path d="M330.89 207.2 v3.1" class="tk"/>
<text transform="translate(332 212.7) rotate(-90) scale(0.92 1)" class="xl">Pt6</text>
<path d="M337.51 207.2 v3.1" class="tk"/>
<text transform="translate(338.61 212.7) rotate(-90) scale(0.92 1)" class="xl">Pt7</text>
<path d="M344.13 207.2 v3.1" class="tk"/>
<text transform="translate(345.23 212.7) rotate(-90) scale(0.92 1)" class="xl">Pt8</text>
<path d="M350.75 207.2 v3.1" class="tk"/>
<text transform="translate(351.85 212.7) rotate(-90) scale(0.92 1)" class="xl">Pt9</text>
<path d="M357.37 207.2 v3.1" class="tk"/>
<text transform="translate(358.47 212.7) rotate(-90) scale(0.92 1)" class="xl">Pt10</text>
<path d="M363.99 207.2 v3.1" class="tk"/>
<text transform="translate(365.09 212.7) rotate(-90) scale(0.92 1)" class="xl">Pt11</text>
<path d="M370.61 207.2 v3.1" class="tk"/>
<text transform="translate(371.71 212.7) rotate(-90) scale(0.92 1)" class="xl">Pt12</text>
<path d="M377.23 207.2 v3.1" class="tk"/>
<text transform="translate(378.33 212.7) rotate(-90) scale(0.92 1)" class="xl">Pt13</text>
<path d="M383.85 207.2 v3.1" class="tk"/>
<text transform="translate(384.95 212.7) rotate(-90) scale(0.92 1)" class="xl">Pt14</text>
<path d="M390.47 207.2 v3.1" class="tk"/>
<text transform="translate(391.57 212.7) rotate(-90) scale(0.92 1)" class="xl">Pt15</text>
<path d="M397.09 207.2 v3.1" class="tk"/>
<text transform="translate(398.19 212.7) rotate(-90) scale(0.92 1)" class="xl">Pt16</text>
<path d="M403.7 207.2 v3.1" class="tk"/>
<text transform="translate(404.8 212.7) rotate(-90) scale(0.92 1)" class="xl">Pt17</text>
<path d="M410.32 207.2 v3.1" class="tk"/>
<text transform="translate(411.42 212.7) rotate(-90) scale(0.92 1)" class="xl">Pt18</text>
<path d="M416.94 207.2 v3.1" class="tk"/>
<text transform="translate(418.04 212.7) rotate(-90) scale(0.92 1)" class="xl">Pt19</text>
<path d="M423.56 207.2 v3.1" class="tk"/>
<text transform="translate(424.66 212.7) rotate(-90) scale(0.92 1)" class="xl">Pt20</text>
<path d="M430.18 207.2 v3.1" class="tk"/>
<text transform="translate(431.28 212.7) rotate(-90) scale(0.92 1)" class="xl">Pt28</text>
<path d="M436.8 207.2 v3.1" class="tk"/>
<text transform="translate(437.9 212.7) rotate(-90) scale(0.92 1)" class="xl">Pt33</text>
<path d="M443.42 207.2 v3.1" class="tk"/>
<text transform="translate(444.52 212.7) rotate(-90) scale(0.92 1)" class="xl">Pt34</text>
<path d="M450.04 207.2 v3.1" class="tk"/>
<text transform="translate(451.14 212.7) rotate(-90) scale(0.92 1)" class="xl">Pt35</text>
<path d="M456.66 207.2 v3.1" class="tk"/>
<text transform="translate(457.76 212.7) rotate(-90) scale(0.92 1)" class="xl">Pt36</text>
<path d="M463.27 207.2 v3.1" class="tk"/>
<text transform="translate(464.38 212.7) rotate(-90) scale(0.92 1)" class="xl">Pt37</text>
<path d="M469.89 207.2 v3.1" class="tk"/>
<text transform="translate(470.99 212.7) rotate(-90) scale(0.92 1)" class="xl">Pt38</text>
<path d="M476.51 207.2 v3.1" class="tk"/>
<text transform="translate(477.61 212.7) rotate(-90) scale(0.92 1)" class="xl">Pt39</text>
<path d="M483.13 207.2 v3.1" class="tk"/>
<text transform="translate(484.23 212.7) rotate(-90) scale(0.92 1)" class="xl">Pt40</text>
<path d="M489.75 207.2 v3.1" class="tk"/>
<text transform="translate(490.85 212.7) rotate(-90) scale(0.92 1)" class="xl">Pt41</text>
<path d="M496.37 207.2 v3.1" class="tk"/>
<text transform="translate(497.47 212.7) rotate(-90) scale(0.92 1)" class="xl">Pt42</text>
<path d="M502.99 207.2 v3.1" class="tk"/>
<text transform="translate(504.09 212.7) rotate(-90) scale(0.92 1)" class="xl">Pt43</text>
<path d="M509.61 207.2 v3.1" class="tk"/>
<text transform="translate(510.71 212.7) rotate(-90) scale(0.92 1)" class="xl">Pt44</text>
<rect x="55.7" y="233.6" width="5" height="5.1" fill="#bfbfbf"/>
<text transform="translate(63.6 237.9) scale(0.95 1)" class="lg">Minor clonotype</text>
<rect x="112.2" y="233.6" width="5" height="5.1" fill="#c8321e"/>
<text transform="translate(120.1 237.9) scale(0.95 1)" class="lg">Clone 10</text>
<rect x="151.1" y="233.6" width="5" height="5.1" fill="#58a23c"/>
<text transform="translate(159 237.9) scale(0.95 1)" class="lg">Clone 9</text>
<rect x="187.2" y="233.6" width="5" height="5.1" fill="#f7e21a"/>
<text transform="translate(195.1 237.9) scale(0.95 1)" class="lg">Clone 8</text>
<rect x="222.7" y="233.6" width="5" height="5.1" fill="#2a1f86"/>
<text transform="translate(230.6 237.9) scale(0.95 1)" class="lg">Clone 7</text>
<rect x="258.6" y="233.6" width="5" height="5.1" fill="#5c2088"/>
<text transform="translate(266.5 237.9) scale(0.95 1)" class="lg">Clone 6</text>
<rect x="294.2" y="233.6" width="5" height="5.1" fill="#5fb6b4"/>
<text transform="translate(302.1 237.9) scale(0.95 1)" class="lg">Clone 5</text>
<rect x="330.2" y="233.6" width="5" height="5.1" fill="#e0941c"/>
<text transform="translate(338.1 237.9) scale(0.95 1)" class="lg">Clone 4</text>
<rect x="366.1" y="233.6" width="5" height="5.1" fill="#d9a6d8"/>
<text transform="translate(374 237.9) scale(0.95 1)" class="lg">Clone 3</text>
<rect x="402.1" y="233.6" width="5" height="5.1" fill="#3e9e55"/>
<text transform="translate(410 237.9) scale(0.95 1)" class="lg">Clone 2</text>
<rect x="437.5" y="233.6" width="5" height="5.1" fill="#229ae0"/>
<text transform="translate(445.4 237.9) scale(0.95 1)" class="lg">Clone 1</text>
<path d="M0 0H520V246H0Z M1.2 1.05V244.8H518.5V1.05Z" fill="#000" fill-rule="evenodd"/>
</svg>
</body></html>
